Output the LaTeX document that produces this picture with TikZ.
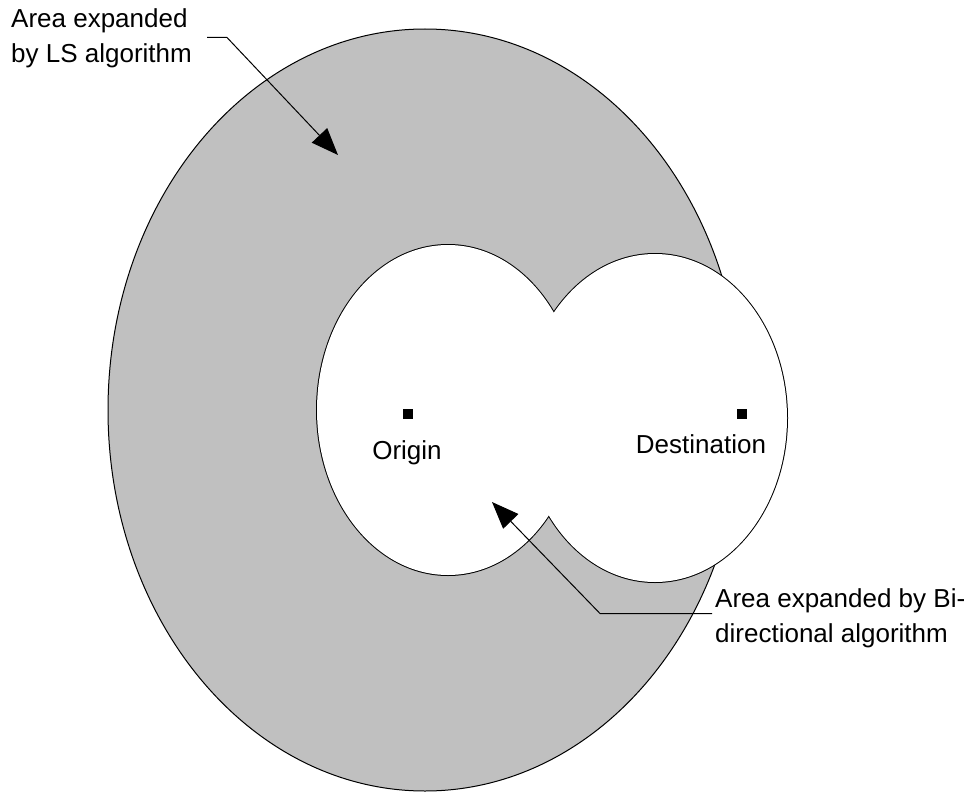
\documentclass[tikz,border=0pt]{standalone}
\usepackage{fontspec}
\setmainfont{Liberation Sans}
\usetikzlibrary{arrows.meta}
\definecolor{areagray}{HTML}{C0C0C0}
\tikzset{
  lbl/.style={inner sep=0pt, anchor=base west, font=\fontsize{26}{35}\selectfont},
  clbl/.style={inner sep=0pt, anchor=base, font=\fontsize{26}{35}\selectfont},
  pointer/.style={line width=1pt, -{Triangle[length=27pt,width=21pt]}},
  spot/.style={fill=black, draw=none, minimum size=10pt, inner sep=0pt, rectangle},
}
\begin{document}
\begin{tikzpicture}[x=1pt,y=-1pt]
\useasboundingbox (0,0) rectangle (975,792);
% outer LS area
\fill[areagray, draw=black, line width=1pt] (425,410) ellipse [x radius=317pt, y radius=381pt];
% bidirectional union: outline then white fill (half of the outline stays visible)
\draw[line width=2pt] (448,410) ellipse [x radius=131pt, y radius=165pt];
\draw[line width=2pt] (655,418) ellipse [x radius=132pt, y radius=164pt];
\fill[white] (448,410) ellipse [x radius=131pt, y radius=165pt];
\fill[white] (655,418) ellipse [x radius=132pt, y radius=164pt];
% points
\node[spot] (o) at (408,414) {};
\node[spot] (d) at (742,414) {};
\node[clbl] (olab) at (407,459) {Origin};
\node[clbl] (dlab) at (701,453) {Destination};
% labels
\node[lbl] (lsA) at (11,28) {Area expanded};
\node[lbl] (lsB) at (11,63) {by LS algorithm};
\node[lbl] (biA) at (715,607) {Area expanded by Bi-};
\node[lbl] (biB) at (715,642) {directional algorithm};
% connectors
\coordinate (lsStart) at (207,37.5);
\coordinate (lsBend) at (227,37.5);
\coordinate (lsTip) at (338,155);
\draw[pointer] (lsStart) -- (lsBend) -- (lsTip);
\coordinate (biStart) at (712,613.5);
\coordinate (biBend) at (600,613.5);
\coordinate (biTip) at (492,502);
\draw[pointer] (biStart) -- (biBend) -- (biTip);
\end{tikzpicture}
\end{document}
